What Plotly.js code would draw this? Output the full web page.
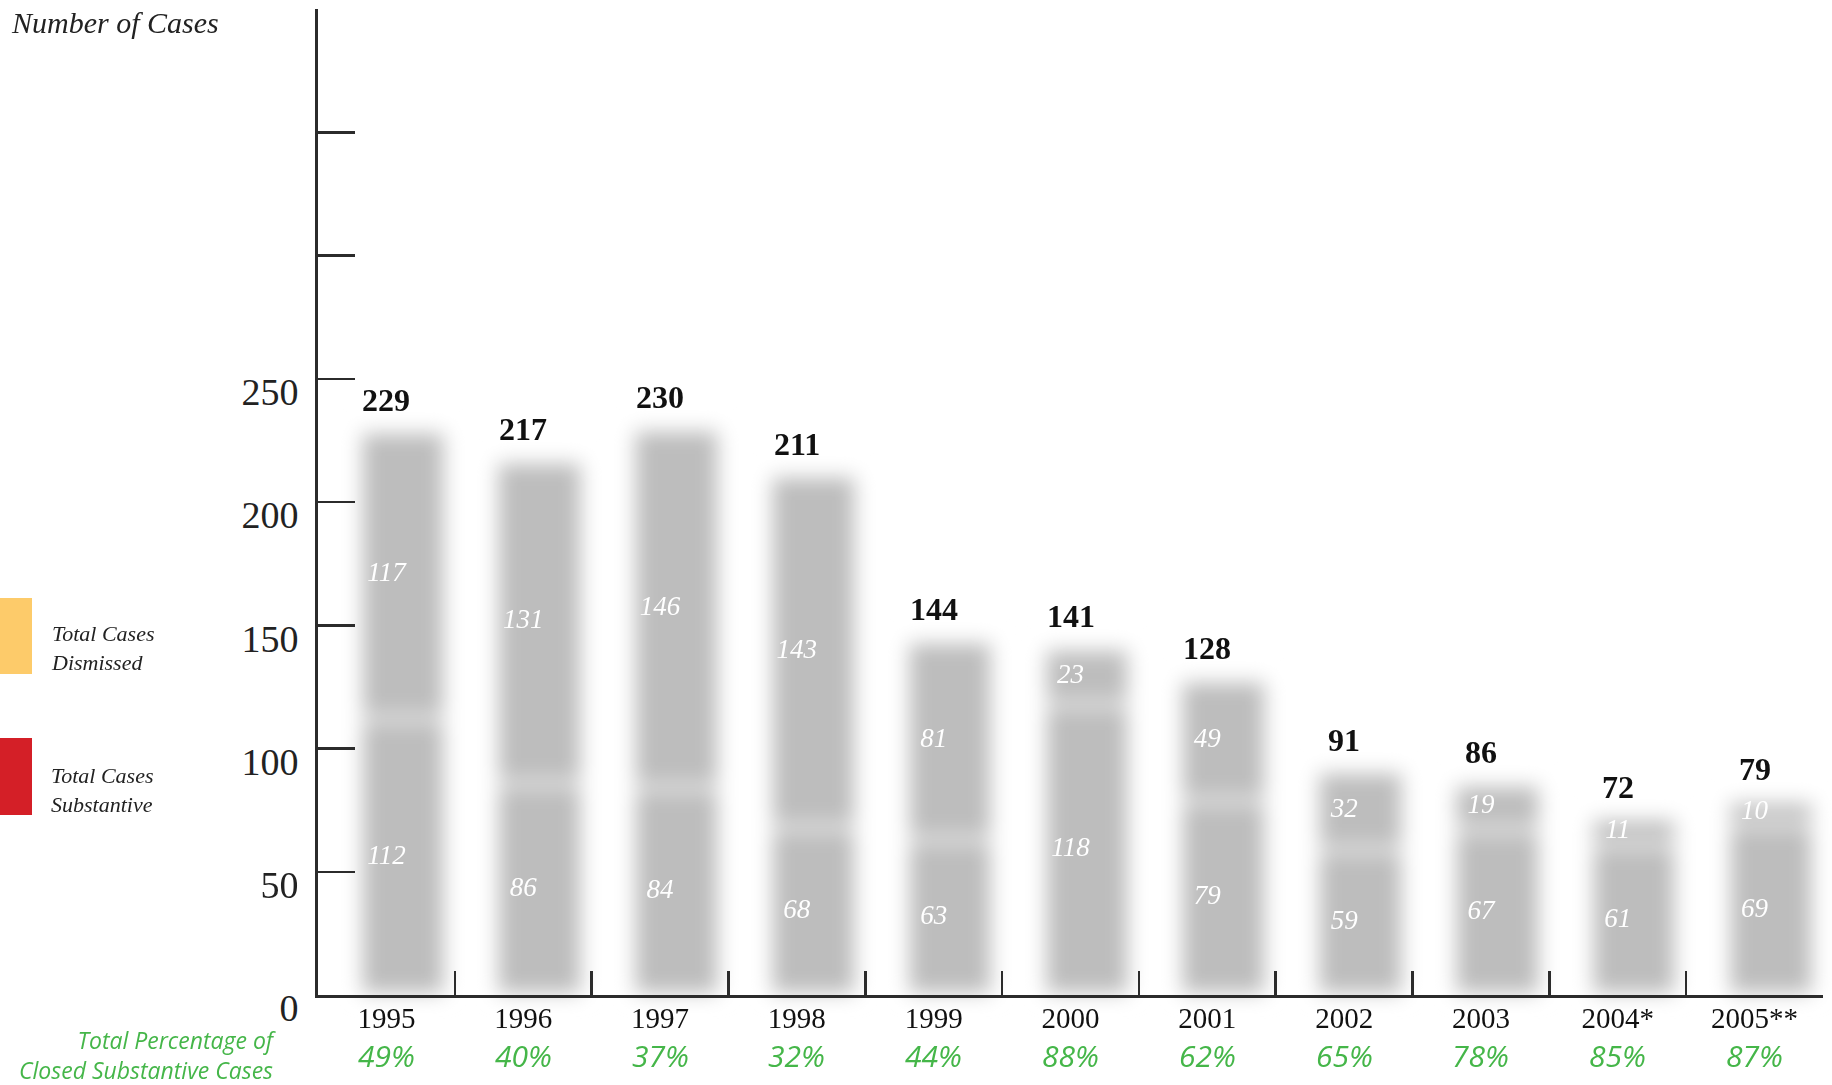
<!DOCTYPE html>
<html>
<head>
<meta charset="utf-8">
<script src="https://cdn.plot.ly/plotly-3.0.1.min.js"></script>
<style>
  html, body { margin: 0; padding: 0; background: #ffffff; }
  #chart { width: 1832px; height: 1085px; }
</style>
</head>
<body>
<div id="chart"></div>
<script>
// ---------------- data ----------------
var years = ['1995', '1996', '1997', '1998', '1999', '2000', '2001', '2002', '2003', '2004*', '2005**'];
var substantive = [112, 86, 84, 68, 63, 118, 79, 59, 67, 61, 69];   // lower segment
var dismissed   = [117, 131, 146, 143, 81, 23, 49, 32, 19, 11, 10];  // upper segment
var totals      = [229, 217, 230, 211, 144, 141, 128, 91, 86, 72, 79];
var percentClosedSubstantive = ['49%', '40%', '37%', '32%', '44%', '88%', '62%', '65%', '78%', '85%', '87%'];
var yTickValues = [0, 50, 100, 150, 200, 250, 300, 350, 400];
var yTickLabels = ['0', '50', '100', '150', '200', '250', '', '', ''];
var seriesNames = ['Total Cases Substantive', 'Total Cases Dismissed'];

// ---------------- styling ----------------
var SERIF = 'Liberation Serif, Times New Roman, serif';
var SANS = 'Open Sans, Lato, DejaVu Sans, sans-serif';
var GREEN = '#45b649';
var AXIS = '#2b2b2b';
var BAR = '#bdbdbd';

var W = 1832, H = 1085;
var ML = 318, MR = 9, MT = 9, MB = 90;
var PW = W - ML - MR, PH = H - MT - MB;
function xp(px) { return (px - ML) / PW; }
function yp(py) { return (H - MB - py) / PH; }

var barWidth = 0.64, barOffset = -0.2;

var traces = [
  {
    type: 'bar', name: seriesNames[0], x: years, y: substantive,
    width: barWidth, offset: barOffset,
    marker: { color: BAR, line: { color: '#ffffff', width: 5 } },
    hoverinfo: 'skip'
  },
  {
    type: 'bar', name: seriesNames[1], x: years, y: dismissed, base: substantive,
    width: barWidth, offset: barOffset,
    marker: { color: BAR, line: { color: '#ffffff', width: 5 } },
    hoverinfo: 'skip'
  },
  {
    type: 'scatter', mode: 'text', x: years,
    y: substantive.map(function (v) { return v / 2; }),
    text: substantive.map(String),
    textposition: 'middle center',
    textfont: { family: SERIF, size: 27, color: '#ffffff', style: 'italic' },
    hoverinfo: 'skip', cliponaxis: false
  },
  {
    type: 'scatter', mode: 'text', x: years,
    y: dismissed.map(function (v, i) { return substantive[i] + v / 2; }),
    text: dismissed.map(String),
    textposition: 'middle center',
    textfont: { family: SERIF, size: 27, color: '#ffffff', style: 'italic' },
    hoverinfo: 'skip', cliponaxis: false
  }
];

var annotations = [];
// totals above bars and percentages under the year labels (x given as category index)
years.forEach(function (yr, i) {
  annotations.push({
    x: i, y: totals[i], xref: 'x', yref: 'y', yshift: 31,
    text: '<b>' + totals[i] + '</b>', showarrow: false,
    font: { family: SERIF, size: 32, color: '#111111' },
    xanchor: 'center', yanchor: 'middle'
  });
  annotations.push({
    x: i, y: yp(1055), xref: 'x', yref: 'paper',
    text: '<i>' + percentClosedSubstantive[i] + '</i>', showarrow: false,
    font: { family: SANS, size: 30, color: GREEN },
    xanchor: 'center', yanchor: 'middle'
  });
});
// axis title
annotations.push({
  x: xp(9), y: yp(22), xref: 'paper', yref: 'paper',
  text: '<i>Number of Cases</i>', showarrow: false,
  font: { family: SERIF, size: 30, color: '#222222' },
  xanchor: 'left', yanchor: 'middle'
});
// legend labels
annotations.push({
  x: xp(49), y: yp(648), xref: 'paper', yref: 'paper',
  text: '<i>Total Cases<br>Dismissed</i>', showarrow: false, align: 'left',
  font: { family: SERIF, size: 22, color: '#222222' },
  xanchor: 'left', yanchor: 'middle'
});
annotations.push({
  x: xp(49), y: yp(790), xref: 'paper', yref: 'paper',
  text: '<i>Total Cases<br>Substantive</i>', showarrow: false, align: 'left',
  font: { family: SERIF, size: 22, color: '#222222' },
  xanchor: 'left', yanchor: 'middle'
});
// green caption
annotations.push({
  x: xp(279), y: yp(1055), xref: 'paper', yref: 'paper',
  text: '<i>Total Percentage of<br>Closed Substantive Cases</i>', showarrow: false, align: 'right',
  font: { family: SANS, size: 23, color: GREEN },
  xanchor: 'right', yanchor: 'middle'
});

var shapes = [
  { type: 'rect', xref: 'paper', yref: 'paper', x0: xp(0), x1: xp(32), y0: yp(674), y1: yp(598),
    fillcolor: '#fdcb6a', line: { width: 0 } },
  { type: 'rect', xref: 'paper', yref: 'paper', x0: xp(0), x1: xp(32), y0: yp(815), y1: yp(738),
    fillcolor: '#d41f27', line: { width: 0 } }
];

var layout = {
  width: W, height: H,
  margin: { l: ML, r: MR, t: MT, b: MB, pad: 0 },
  paper_bgcolor: '#ffffff', plot_bgcolor: '#ffffff',
  showlegend: false,
  barmode: 'stack',
  xaxis: {
    type: 'category', range: [-0.5, 10.5], tickson: 'boundaries',
    showline: true, linecolor: AXIS, linewidth: 3, mirror: false,
    ticks: 'inside', ticklen: 24, tickwidth: 2.5, tickcolor: AXIS,
    showgrid: false, zeroline: false,
    tickfont: { family: SERIF, size: 29, color: '#111111' },
    ticklabelstandoff: -5, fixedrange: true
  },
  yaxis: {
    range: [0, 400], tickmode: 'array', tickvals: yTickValues, ticktext: yTickLabels,
    showline: true, linecolor: AXIS, linewidth: 3,
    ticks: 'inside', ticklen: 37, tickwidth: 2.5, tickcolor: AXIS,
    showgrid: false, zeroline: false,
    tickfont: { family: SERIF, size: 38, color: '#222222' },
    ticklabelshift: 13, ticklabelstandoff: 9, fixedrange: true
  },
  annotations: annotations,
  shapes: shapes
};

Plotly.newPlot('chart', traces, layout, { displayModeBar: false, staticPlot: true }).then(function (gd) {
  var svgNS = 'http://www.w3.org/2000/svg';
  var svg = gd.querySelector('.main-svg');
  var defs = svg.querySelector('defs');
  var filter = document.createElementNS(svgNS, 'filter');
  filter.setAttribute('id', 'barblur');
  filter.setAttribute('x', '-20%'); filter.setAttribute('y', '-20%');
  filter.setAttribute('width', '140%'); filter.setAttribute('height', '140%');
  var blur = document.createElementNS(svgNS, 'feGaussianBlur');
  blur.setAttribute('stdDeviation', '10');
  filter.appendChild(blur);
  defs.appendChild(filter);
  gd.querySelectorAll('.barlayer').forEach(function (el) { el.setAttribute('filter', 'url(#barblur)'); });
});
</script>
</body>
</html>
